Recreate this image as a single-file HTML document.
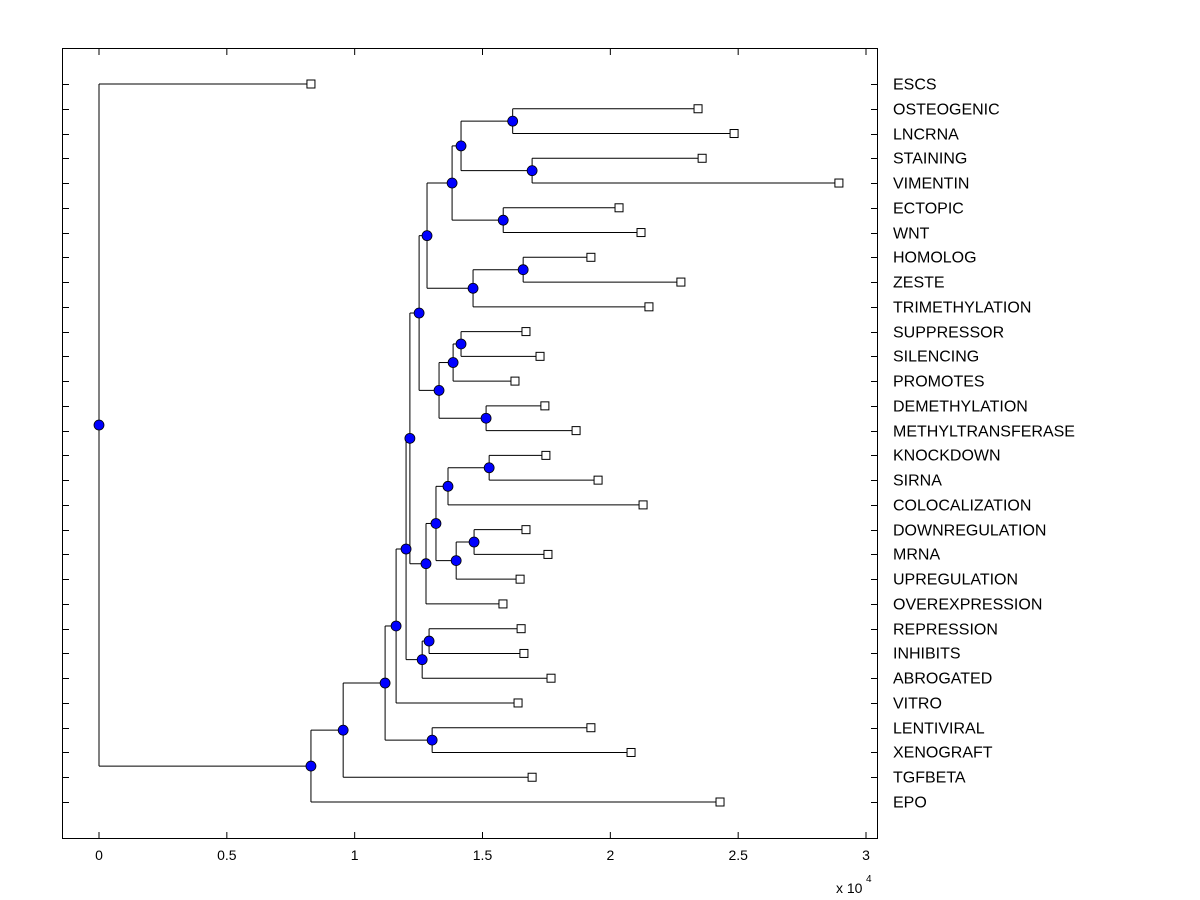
<!DOCTYPE html>
<html><head><meta charset="utf-8"><style>
body{margin:0;background:#fff;}
svg{display:block;font-family:"Liberation Sans",Arial,sans-serif;}
</style></head><body>
<svg id="chart" width="1200" height="900" viewBox="0 0 1200 900" xmlns="http://www.w3.org/2000/svg">
<rect x="0" y="0" width="1200" height="900" fill="#fff"/>
<rect x="62.5" y="48.5" width="815" height="790" fill="none" stroke="#000" stroke-width="1"/>
<g id="ticks"></g>
<g id="links"></g>
<g id="marks"></g>
<g id="labels"></g>
<text x="836" y="893" font-size="14">x 10</text>
<text x="866" y="882" font-size="10">4</text>
</svg>
<script>
const leafNames = ["ESCS","OSTEOGENIC","LNCRNA","STAINING","VIMENTIN","ECTOPIC","WNT","HOMOLOG","ZESTE","TRIMETHYLATION","SUPPRESSOR","SILENCING","PROMOTES","DEMETHYLATION","METHYLTRANSFERASE","KNOCKDOWN","SIRNA","COLOCALIZATION","DOWNREGULATION","MRNA","UPREGULATION","OVEREXPRESSION","REPRESSION","INHIBITS","ABROGATED","VITRO","LENTIVIRAL","XENOGRAFT","TGFBETA","EPO"];
const leafDist = [0.829,2.343,2.484,2.359,2.894,2.034,2.120,1.924,2.276,2.151,1.670,1.725,1.627,1.744,1.866,1.748,1.952,2.128,1.670,1.756,1.647,1.580,1.651,1.662,1.768,1.639,1.924,2.081,1.694,2.429];
// internal nodes: name, distance (x1e4), children (leaf names or node names)
const nodeNames = ["R","S","P","Q","N","T","O","L","W","U","V","M","J","AA","Y","AB","Z","X","K","G","I","H","F","D","E","C","B","A","root"];
const nodeDist = [1.618,1.694,1.416,1.581,1.381,1.659,1.463,1.283,1.416,1.385,1.514,1.330,1.252,1.526,1.365,1.467,1.397,1.318,1.279,1.216,1.291,1.264,1.201,1.162,1.303,1.119,0.955,0.829,0];
const nodeKids = [["OSTEOGENIC","LNCRNA"],["STAINING","VIMENTIN"],["R","S"],["ECTOPIC","WNT"],["P","Q"],["HOMOLOG","ZESTE"],["T","TRIMETHYLATION"],["N","O"],["SUPPRESSOR","SILENCING"],["W","PROMOTES"],["DEMETHYLATION","METHYLTRANSFERASE"],["U","V"],["L","M"],["KNOCKDOWN","SIRNA"],["AA","COLOCALIZATION"],["DOWNREGULATION","MRNA"],["AB","UPREGULATION"],["Y","Z"],["X","OVEREXPRESSION"],["J","K"],["REPRESSION","INHIBITS"],["I","ABROGATED"],["G","H"],["F","VITRO"],["LENTIVIRAL","XENOGRAFT"],["D","E"],["C","TGFBETA"],["B","EPO"],["ESCS","A"]];
const xTicks = [0,0.5,1,1.5,2,2.5,3];
const xTickLabels = ["0","0.5","1","1.5","2","2.5","3"];

const NS="http://www.w3.org/2000/svg";
const xS = v => 99 + v*255.67;
const yS = i => 84 + i*(802-84)/29;
function mk(tag, attrs, parent){const e=document.createElementNS(NS,tag);for(const k in attrs)e.setAttribute(k,attrs[k]);document.getElementById(parent).appendChild(e);return e;}

const pos = {};
leafNames.forEach((n,i)=>{pos[n]={x:xS(leafDist[i]),y:yS(i),leaf:true};});
nodeNames.forEach((n,i)=>{
  const ys = nodeKids[i].map(k=>pos[k].y);
  pos[n]={x:xS(nodeDist[i]),y:(ys[0]+ys[1])/2,leaf:false};
});
// ticks
xTicks.forEach((t,i)=>{
  const x=xS(t);
  let l=mk('line',{x1:x,x2:x,y1:838,y2:832,stroke:'#000'},'ticks');
  
  
  mk('line',{x1:x,x2:x,y1:49,y2:55,stroke:'#000'},'ticks');
  const tx=mk('text',{x:x,y:860,'font-size':14,'text-anchor':'middle'},'ticks');
  tx.textContent=xTickLabels[i];
  
  
});
leafNames.forEach((n,i)=>{
  const y=Math.round(yS(i))+0.5;
  mk('line',{x1:62,x2:69,y1:y,y2:y,stroke:'#000'},'ticks');
  mk('line',{x1:871,x2:877,y1:y,y2:y,stroke:'#000'},'ticks');
  const t=mk('text',{x:893,y:y+5,'font-size':16},'labels');
  t.textContent=n;
  
  
});
// links
nodeNames.forEach((n,i)=>{
  const p=pos[n];
  const kids=nodeKids[i].map(k=>pos[k]);
  const y0=Math.min(kids[0].y,kids[1].y), y1=Math.max(kids[0].y,kids[1].y);
  const v=mk('line',{x1:p.x,x2:p.x,y1:y0,y2:y1,stroke:'#000','stroke-width':1},'links');
  
  
  kids.forEach(k=>{
    const h=mk('line',{x1:p.x,x2:k.x,y1:k.y,y2:k.y,stroke:'#000','stroke-width':1},'links');
    
    
  });
});
// marks
nodeNames.forEach(n=>{
  const p=pos[n];
  const c=mk('circle',{cx:p.x,cy:p.y,r:5,fill:'#0000ff',stroke:'#000','stroke-width':0.8},'marks');
  
  
});
leafNames.forEach(n=>{
  const p=pos[n];
  const r=mk('rect',{x:p.x-4,y:p.y-4,width:8,height:8,fill:'#fff',stroke:'#000','stroke-width':1},'marks');
  
  
});
</script>
</body></html>
